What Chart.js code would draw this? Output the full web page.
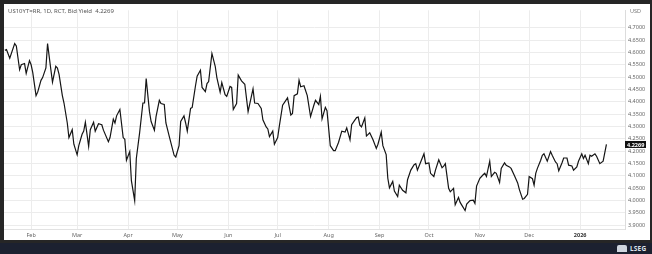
<!DOCTYPE html>
<html>
<head>
<meta charset="utf-8">
<script src="https://cdn.jsdelivr.net/npm/chart.js@4.4.1/dist/chart.umd.min.js"></script>
<style>
  html, body { margin: 0; padding: 0; }
  body { width: 652px; height: 254px; background: #262626; position: relative; overflow: hidden; font-family: "Noto Sans", sans-serif; }
  #panel { position: absolute; left: 4px; top: 4px; width: 646px; height: 236px; background: #fff; }
  #bar { position: absolute; left: 0; top: 243px; width: 652px; height: 11px; background: #1c2130; }
  #title { position: absolute; left: 8px; top: 7px; font-size: 6px; color: #555; white-space: pre; }
  #usd { position: absolute; left: 630px; top: 7px; font-size: 5.5px; color: #777; }
  #lseg { position: absolute; left: 630px; top: 243px; font-size: 6.5px; font-weight: bold; color: #dde2ea; letter-spacing: 0.2px; line-height: 11px; }
  #logo { position: absolute; left: 617px; top: 245px; width: 10px; height: 7px; background: #cfd5de; border-radius: 2px 2px 0 0; }
  canvas { position: absolute; left: 4px; top: 4px; }
</style>
</head>
<body>
<div id="panel"></div>
<canvas id="chart" width="646" height="236"></canvas>
<div id="title">US10YT=RR, 1D, RCT, Bid Yield  4.2269</div>
<div id="usd">USD</div>
<div id="bar"></div>
<div id="logo"></div>
<div id="lseg">LSEG</div>
<script>
// day offsets from 1 Jan 2025
var days = [15,16,18,21,22,24,25,27,28,30,31,32,34,35,37,38,40,41,43,44,46,47,48,50,51,53,54,56,57,59,
  60,62,63,64,66,67,69,70,72,74,75,78,79,81,82,83,85,87,88,89,91,92,94,95,97,99,100,101,103,104,
  106,107,109,110,112,113,115,118,119,121,122,124,125,126,128,129,131,132,134,135,137,138,139,141,143,144,146,147,149,150,
  152,153,154,156,157,159,161,163,165,166,167,169,171,172,174,175,176,178,179,181,182,184,187,189,190,191,193,194,195,197,
  199,201,203,204,206,207,208,210,211,213,215,216,218,220,222,223,225,226,229,230,231,232,234,235,237,239,241,242,244,245,
  247,248,249,251,252,254,255,257,259,260,262,264,265,266,268,270,271,273,274,276,277,279,281,282,283,285,286,288,289,291,
  292,295,296,298,300,301,302,304,306,307,308,310,311,313,314,316,317,319,320,322,323,325,327,328,330,331,333,334,336,337,
  338,339,341,342,343,345,347,348,350,351,352,354,355,357,358,360,361,363,364,366,367,368,370,371,372,374,375,377,379,381];

var yields = [4.609,4.612,4.577,4.636,4.626,4.530,4.550,4.555,4.515,4.567,4.550,4.518,4.425,4.439,4.487,4.498,4.537,4.636,4.531,4.480,4.544,4.537,4.511,4.425,4.395,4.314,4.255,4.287,4.228,4.185,
  4.222,4.268,4.281,4.317,4.219,4.287,4.317,4.281,4.311,4.307,4.285,4.238,4.255,4.330,4.314,4.343,4.369,4.255,4.248,4.163,4.198,4.080,3.999,4.170,4.274,4.395,4.395,4.494,4.360,4.320,
  4.285,4.340,4.406,4.393,4.389,4.314,4.261,4.183,4.176,4.222,4.320,4.343,4.314,4.281,4.373,4.377,4.465,4.504,4.528,4.458,4.441,4.474,4.482,4.596,4.544,4.498,4.439,4.478,4.429,4.422,
  4.462,4.458,4.369,4.393,4.508,4.485,4.471,4.360,4.422,4.452,4.395,4.393,4.373,4.327,4.298,4.290,4.259,4.281,4.228,4.255,4.301,4.386,4.416,4.346,4.353,4.425,4.432,4.487,4.461,4.465,
  4.425,4.340,4.386,4.406,4.389,4.422,4.331,4.377,4.364,4.222,4.202,4.202,4.235,4.281,4.277,4.294,4.246,4.307,4.336,4.338,4.305,4.298,4.334,4.261,4.274,4.246,4.211,4.228,4.277,4.222,
  4.186,4.090,4.051,4.077,4.038,4.016,4.062,4.041,4.031,4.084,4.123,4.145,4.149,4.123,4.156,4.189,4.149,4.152,4.110,4.097,4.123,4.165,4.133,4.139,4.149,4.049,4.035,4.049,3.983,4.012,
  3.992,3.959,3.985,3.999,4.001,3.988,4.058,4.090,4.104,4.110,4.097,4.159,4.097,4.114,4.110,4.073,4.130,4.152,4.143,4.136,4.130,4.101,4.071,4.045,4.005,4.008,4.025,4.097,4.088,4.062,
  4.110,4.130,4.163,4.183,4.189,4.159,4.198,4.183,4.156,4.149,4.120,4.153,4.172,4.172,4.143,4.140,4.123,4.136,4.159,4.189,4.170,4.183,4.149,4.183,4.179,4.189,4.179,4.149,4.159,4.2269];

var monthDays = [31,59,90,120,151,181,212,243,273,304,334,365];
var monthLabels = ["Feb","Mar","Apr","May","Jun","Jul","Aug","Sep","Oct","Nov","Dec","2026"];
var yTicks = [3.90,3.95,4.00,4.05,4.10,4.15,4.20,4.25,4.30,4.35,4.40,4.45,4.50,4.55,4.60,4.65,4.70];
var lastYield = 4.2269;

var points = days.map(function(d, i){ return {x: d, y: yields[i]}; });

// black price badge on the right axis
var badge = {
  id: 'badge',
  afterDraw: function(chart){
    var c = chart.ctx, ys = chart.scales.y;
    var py = ys.getPixelForValue(lastYield);
    c.save();
    c.fillStyle = '#111';
    c.fillRect(ys.left, py - 3.5, 21, 7);
    c.fillStyle = '#fff';
    c.font = 'bold 5.5px "Noto Sans"';
    c.textBaseline = 'middle';
    c.fillText(lastYield.toFixed(4), ys.left + 2, py + 0.5);
    c.restore();
  }
};

var ctx = document.getElementById("chart");
var chart = new Chart(ctx, {
  type: 'line',
  data: {
    datasets: [{
      data: points,
      borderColor: '#151515',
      borderWidth: 1.2,
      pointRadius: 0,
      tension: 0
    }]
  },
  options: {
    responsive: false,
    animation: false,
    layout: { padding: 0 },
    plugins: { legend: { display: false }, tooltip: { enabled: false } },
    scales: {
      x: {
        type: 'linear',
        min: 14.5,
        max: 392.3,
        afterBuildTicks: function(s){ s.ticks = monthDays.map(function(v){ return {value: v}; }); },
        afterFit: function(s){ s.height = 11; },
        grid: { color: '#ececec', drawTicks: false },
        border: { color: '#e2e2e2' },
        ticks: {
          padding: 3,
          autoSkip: false,
          maxRotation: 0,
          color: function(c){ return c.tick && c.tick.value === 365 ? '#333' : '#666'; },
          font: function(c){
            var bold = c.tick && c.tick.value === 365;
            return { size: 5.5, family: 'Noto Sans', weight: bold ? 'bold' : 'normal' };
          },
          callback: function(v){ var i = monthDays.indexOf(v); return i < 0 ? '' : monthLabels[i]; }
        }
      },
      y: {
        position: 'right',
        min: 3.8842,
        max: 4.7709,
        afterBuildTicks: function(s){ s.ticks = yTicks.map(function(v){ return {value: v}; }); },
        afterFit: function(s){ s.width = 25; },
        grid: { color: '#ececec', drawTicks: false },
        border: { color: '#dcdcdc' },
        ticks: {
          padding: 3,
          color: '#666',
          font: { size: 5.5, family: 'Noto Sans' },
          callback: function(v){ return Number(v).toFixed(4); }
        }
      }
    }
  },
  plugins: [badge]
});
</script>
</body>
</html>
